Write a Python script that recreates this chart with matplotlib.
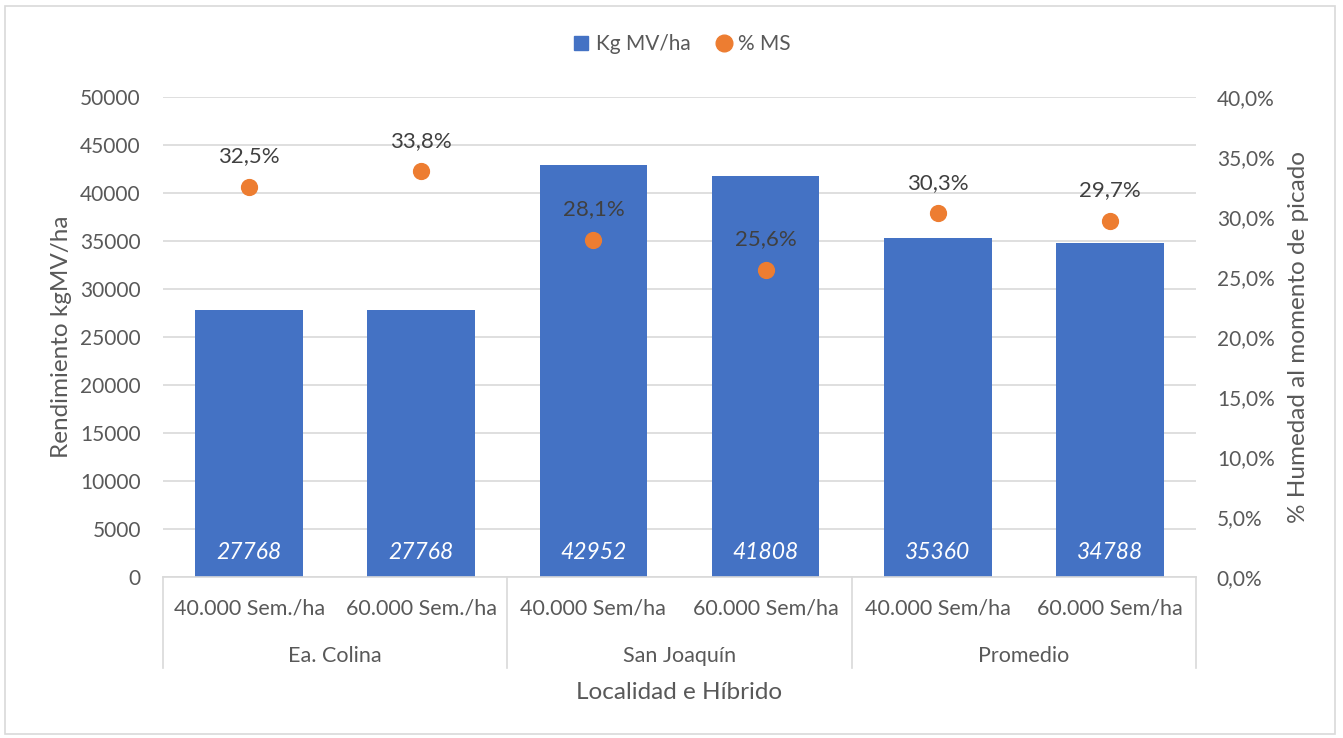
import matplotlib
matplotlib.use('Agg')
import matplotlib.pyplot as plt
from matplotlib.lines import Line2D
from matplotlib.patches import Rectangle
import numpy as np

# data
densidades = ['40.000 Sem./ha', '60.000 Sem./ha', '40.000 Sem/ha',
              '60.000 Sem/ha', '40.000 Sem/ha', '60.000 Sem/ha']
localidades = ['Ea. Colina', 'San Joaquín', 'Promedio']
kg_mv_ha = [27768, 27768, 42952, 41808, 35360, 34788]
pct_ms = [32.5, 33.8, 28.1, 25.6, 30.3, 29.7]

plt.rcParams['font.family'] = ['Lato', 'DejaVu Sans']
txt_col = '#595959'
grid_col = '#d9d9d9'
bar_col = '#4472C4'
dot_col = '#ED7D31'

fig = plt.figure(figsize=(13.43, 7.38), dpi=100)
fig.patches.append(Rectangle((0.004, 0.006), 0.99, 0.986, transform=fig.transFigure,
                             fill=False, edgecolor='#d9d9d9', linewidth=1.2))

ax1 = fig.add_axes([0.1214, 0.2182, 0.7691, 0.6504])
x = np.arange(len(kg_mv_ha))
bars = ax1.bar(x, kg_mv_ha, width=0.625, color=bar_col, zorder=2)
ax1.set_xlim(-0.5, len(x) - 0.5)
ax1.set_ylim(0, 50000)
ax1.set_yticks(np.arange(0, 50001, 5000))
ax1.yaxis.grid(True, color=grid_col, linewidth=1.2, zorder=0)
ax1.set_axisbelow(True)
for s in ['top', 'right', 'left']:
    ax1.spines[s].set_visible(False)
ax1.spines['bottom'].set_color(grid_col)
ax1.spines['bottom'].set_linewidth(1.2)
ax1.tick_params(axis='y', length=0, labelsize=15, labelcolor=txt_col, pad=16)
ax1.set_xticks([])
ax1.set_ylabel('Rendimiento kgMV/ha', fontsize=17.5, color=txt_col, labelpad=6)

for xi, v in zip(x, kg_mv_ha):
    ax1.text(xi, 2600, str(v), ha='center', va='center', color='white',
             fontsize=16.5, style='italic')

ax2 = ax1.twinx()
ax2.set_ylim(0, 40)
ax2.set_yticks(np.arange(0, 40.1, 5))
ax2.set_yticklabels(['{:.1f}%'.format(t).replace('.', ',') for t in np.arange(0, 40.1, 5)])
for s in ax2.spines.values():
    s.set_visible(False)
ax2.tick_params(axis='y', length=0, labelsize=15, labelcolor=txt_col, pad=15)
ax2.scatter(x, pct_ms, s=130, color=dot_col, zorder=3)
for xi, p in zip(x, pct_ms):
    ax2.annotate('{:.1f}%'.format(p).replace('.', ','), (xi, p), xytext=(0, 22),
                 textcoords='offset points', ha='center', va='center',
                 fontsize=16, color='#404040')
ax2.set_ylabel('% Humedad al momento de picado', fontsize=17.5, color=txt_col, labelpad=10)

# two-level category axis
tr = ax1.get_xaxis_transform()
for xi, lab in zip(x, densidades):
    ax1.text(xi, -0.065, lab, transform=tr, ha='center', va='center',
             fontsize=15.5, color=txt_col)
for i, loc in enumerate(localidades):
    ax1.text(2 * i + 0.5, -0.165, loc, transform=tr, ha='center', va='center',
             fontsize=15.5, color=txt_col)
for b in [-0.5, 1.5, 3.5, 5.5]:
    ax1.add_line(Line2D([b, b], [0, -0.19], transform=tr, color=grid_col,
                        linewidth=1.2, clip_on=False))
ax1.text(2.5, -0.24, 'Localidad e Híbrido', transform=tr, ha='center', va='center',
         fontsize=17.5, color=txt_col)

handles = [Line2D([], [], marker='s', color=bar_col, linestyle='', markersize=10),
           Line2D([], [], marker='o', color=dot_col, linestyle='', markersize=12)]
fig.legend(handles, ['Kg MV/ha', '% MS'], loc='center', bbox_to_anchor=(0.507, 0.94),
           ncol=2, frameon=False, fontsize=15, labelcolor=txt_col,
           handlelength=1.0, handletextpad=0.2, columnspacing=1.1)

fig.savefig('out.png', dpi=100)
